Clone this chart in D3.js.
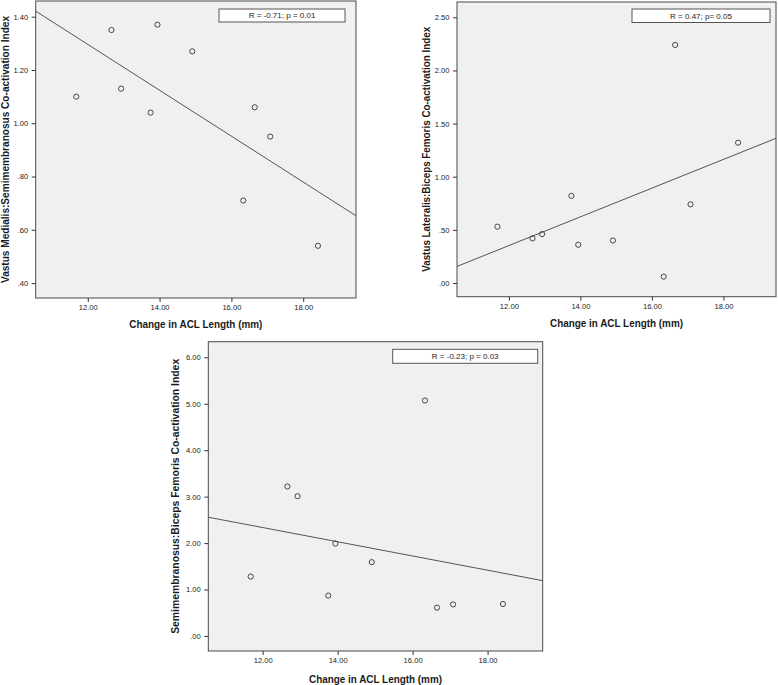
<!DOCTYPE html>
<html>
<head>
<meta charset="utf-8">
<script src="https://cdn.jsdelivr.net/npm/d3@7"></script>
<style>
  body { margin: 0; background: #fff; }
  svg { display: block; font-family: "Liberation Sans", Arial, sans-serif; }
</style>
</head>
<body>
<svg id="chart" width="778" height="685"></svg>
<script>
// ---- Data ----
const aclChange = [11.68, 12.66, 12.93, 13.75, 13.94, 14.91, 16.33, 16.65, 17.08, 18.41];
const vmSmIndex = [1.10, 1.35, 1.13, 1.04, 1.37, 1.27, 0.71, 1.06, 0.95, 0.54];
const vlBfIndex = [0.53, 0.42, 0.46, 0.82, 0.36, 0.40, 0.06, 2.24, 0.74, 1.32];
const smBfIndex = [1.28, 3.22, 3.01, 0.87, 1.99, 1.59, 5.07, 0.61, 0.68, 0.69];

const xTicks = [12, 14, 16, 18];
const yTicks1 = [0.4, 0.6, 0.8, 1.0, 1.2, 1.4];
const yTicks2 = [0.0, 0.5, 1.0, 1.5, 2.0, 2.5];
const yTicks3 = [0, 1, 2, 3, 4, 5, 6];

const xTitle = "Change in ACL Length (mm)";
const yTitles = [
  "Vastus Medialis:Semimembranosus Co-activation Index",
  "Vastus Lateralis:Biceps Femoris Co-activation Index",
  "Semimembranosus:Biceps Femoris Co-activation Index"
];
const statLabels = ["R = -0.71; p = 0.01", "R = 0.47; p= 0.05", "R = -0.23; p = 0.03"];

// ---- Layout ----
const panels = [
  { x0: 35.7, x1: 356, y0: 1, y1: 298, yDom: [0.344, 1.459], yTicks: yTicks1, ys: vmSmIndex,
    title: yTitles[0], stat: statLabels[0], box: [219, 9, 126, 13], yTitleX: 8.8, yTitleLen: 267, xTitleY: 328 },
  { x0: 457, x1: 776, y0: 2, y1: 296.7, yDom: [-0.129, 2.644], yTicks: yTicks2, ys: vlBfIndex,
    title: yTitles[1], stat: statLabels[1], box: [632, 9, 138, 13.5], yTitleX: 429.5, yTitleLen: 245, xTitleY: 327 },
  { x0: 208.3, x1: 542.7, y0: 341.7, y1: 651, yDom: [-0.323, 6.336], yTicks: yTicks3, ys: smBfIndex,
    title: yTitles[2], stat: statLabels[2], box: [392.7, 349.3, 145, 14], yTitleX: 179, yTitleLen: 275, xTitleY: 682.5 }
];
const xDom = [10.55, 19.47];
const fmt = v => d3.format(".2f")(v).replace(/^0\./, ".").replace(/^-0\./, "-.");

const svg = d3.select("#chart");

panels.forEach(p => {
  const x = d3.scaleLinear().domain(xDom).range([p.x0, p.x1]);
  const y = d3.scaleLinear().domain(p.yDom).range([p.y1, p.y0]);
  const g = svg.append("g");

  g.append("rect")
    .attr("x", p.x0).attr("y", p.y0)
    .attr("width", p.x1 - p.x0).attr("height", p.y1 - p.y0)
    .attr("fill", "#f0f0f0").attr("stroke", "#4a4a4a").attr("stroke-width", 1);

  const xAxis = g.append("g").attr("transform", `translate(0,${p.y1})`)
    .call(d3.axisBottom(x).tickValues(xTicks).tickFormat(fmt).tickSize(4).tickPadding(3));
  const yAxis = g.append("g").attr("transform", `translate(${p.x0},0)`)
    .call(d3.axisLeft(y).tickValues(p.yTicks).tickFormat(fmt).tickSize(4).tickPadding(3.5));
  [xAxis, yAxis].forEach(a => {
    a.select(".domain").remove();
    a.selectAll(".tick line").attr("stroke", "#333");
    a.selectAll(".tick text").attr("fill", "#222").style("font-size", "7.6px")
      .style("font-family", '"Liberation Sans", Arial, sans-serif');
  });

  // regression line (OLS) across plot range
  const mx = d3.mean(aclChange), my = d3.mean(p.ys);
  let sxy = 0, sxx = 0;
  aclChange.forEach((xv, i) => { sxy += (xv - mx) * (p.ys[i] - my); sxx += (xv - mx) * (xv - mx); });
  const slope = sxy / sxx, icpt = my - slope * mx;
  g.append("line")
    .attr("x1", x(xDom[0])).attr("y1", y(icpt + slope * xDom[0]))
    .attr("x2", x(xDom[1])).attr("y2", y(icpt + slope * xDom[1]))
    .attr("stroke", "#555").attr("stroke-width", 1);

  // points
  g.selectAll("circle.pt").data(aclChange.map((xv, i) => [xv, p.ys[i]])).join("circle")
    .attr("class", "pt")
    .attr("cx", d => x(d[0])).attr("cy", d => y(d[1])).attr("r", 2.6)
    .attr("fill", "none").attr("stroke", "#333").attr("stroke-width", 0.9);

  // stat box
  g.append("rect")
    .attr("x", p.box[0]).attr("y", p.box[1]).attr("width", p.box[2]).attr("height", p.box[3])
    .attr("fill", "#fff").attr("stroke", "#555").attr("stroke-width", 1);
  g.append("text")
    .attr("x", p.box[0] + p.box[2] / 2).attr("y", p.box[1] + p.box[3] / 2 + 2.9)
    .attr("text-anchor", "middle").attr("fill", "#222").style("font-size", "8px")
    .text(p.stat);

  // axis titles
  g.append("text")
    .attr("x", (p.x0 + p.x1) / 2).attr("y", p.xTitleY)
    .attr("text-anchor", "middle").attr("fill", "#1a1a1a")
    .style("font-size", "10px").style("font-weight", "bold")
    .attr("textLength", 133).attr("lengthAdjust", "spacingAndGlyphs")
    .text(xTitle);
  g.append("text")
    .attr("transform", `translate(${p.yTitleX},${(p.y0 + p.y1) / 2}) rotate(-90)`)
    .attr("text-anchor", "middle").attr("fill", "#1a1a1a")
    .style("font-size", "10px").style("font-weight", "bold")
    .attr("textLength", p.yTitleLen).attr("lengthAdjust", "spacingAndGlyphs")
    .text(p.title);
});
</script>
</body>
</html>
